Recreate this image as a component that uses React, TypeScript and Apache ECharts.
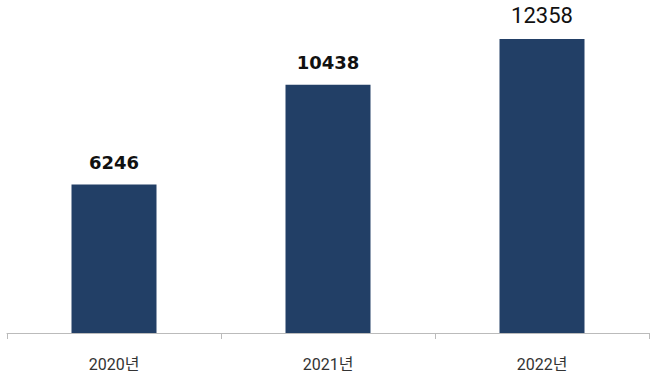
import React, { useEffect, useRef } from "react";
import * as echarts from "echarts";

const categories = ["2020년", "2021년", "2022년"];
const values = [6246, 10438, 12358];
const boldLabels = [true, true, false];

export default function App() {
  const ref = useRef<HTMLDivElement>(null);
  useEffect(() => {
    if (!ref.current) return;
    const chart = echarts.init(ref.current, undefined, { renderer: "svg" });
    chart.setOption({
      animation: false,
      grid: { left: 7, right: 11, top: 0, bottom: 57 },
      xAxis: {
        type: "category",
        data: categories,
        axisLine: { lineStyle: { color: "#bbbbbb", width: 1 } },
        axisTick: { show: true, length: 6, lineStyle: { color: "#bbbbbb" } },
        axisLabel: {
          margin: 23,
          fontSize: 16,
          color: "#333333",
          fontFamily: "Roboto, 'Noto Sans CJK KR', sans-serif",
        },
      },
      yAxis: {
        type: "value",
        min: 0,
        max: 14000,
        show: false,
        splitLine: { show: false },
      },
      series: [
        {
          type: "bar",
          barWidth: 85,
          data: values.map((v, i) => ({
            value: v,
            label: boldLabels[i]
              ? {
                  fontSize: 18,
                  fontWeight: "bold",
                  fontFamily: "'DejaVu Sans', sans-serif",
                  distance: 13,
                }
              : {
                  fontSize: 22,
                  fontWeight: "normal",
                  fontFamily: "Roboto, sans-serif",
                  distance: 13,
                },
          })),
          itemStyle: { color: "#223f66" },
          label: {
            show: true,
            position: "top",
            color: "#111111",
          },
        },
      ],
    });
    return () => chart.dispose();
  }, []);
  return <div ref={ref} style={{ width: 660, height: 390, position: "absolute", left: 0, top: 0 }} />;
}
